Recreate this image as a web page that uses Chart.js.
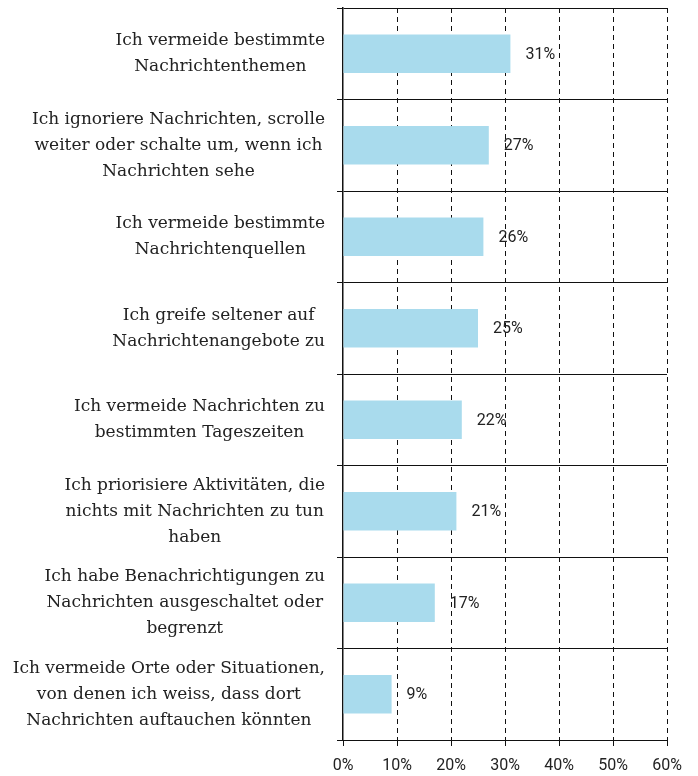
<!DOCTYPE html>
<html>
<head>
<meta charset="utf-8">
<script src="https://cdn.jsdelivr.net/npm/chart.js@4"></script>
<style>
  html, body { margin: 0; padding: 0; background: #fff; }
  #wrap { width: 698px; height: 776px; }
</style>
</head>
<body>
<div id="wrap"><canvas id="chart" width="698" height="776"></canvas></div>
<script>
// data
const categories = [
  ['Ich vermeide bestimmte', 'Nachrichtenthemen'],
  ['Ich ignoriere Nachrichten, scrolle', 'weiter oder schalte um, wenn ich', 'Nachrichten sehe'],
  ['Ich vermeide bestimmte', 'Nachrichtenquellen'],
  ['Ich greife seltener auf', 'Nachrichtenangebote zu'],
  ['Ich vermeide Nachrichten zu', 'bestimmten Tageszeiten'],
  ['Ich priorisiere Aktivitäten, die', 'nichts mit Nachrichten zu tun', 'haben'],
  ['Ich habe Benachrichtigungen zu', 'Nachrichten ausgeschaltet oder', 'begrenzt'],
  ['Ich vermeide Orte oder Situationen,', 'von denen ich weiss, dass dort', 'Nachrichten auftauchen könnten']
]
const values = [31, 27, 26, 25, 22, 21, 17, 9]
const xMax = 60
const xStep = 10

const labelFont = '17px "DejaVu Serif"'
const numFont = '16px Roboto'

// category labels: each block centred on itself, blocks right aligned
const catLabels = {
  id: 'catLabels',
  afterDraw(chart) {
    const ctx = chart.ctx
    const y = chart.scales.y
    ctx.save()
    ctx.font = labelFont
    ctx.fillStyle = '#222'
    ctx.textAlign = 'center'
    ctx.textBaseline = 'middle'
    const right = y.right - 18
    const lh = 26
    categories.forEach((lines, i) => {
      const cy = y.getPixelForValue(i)
      let w = 0
      lines.forEach(l => { w = Math.max(w, ctx.measureText(l).width) })
      const cx = right - w / 2
      lines.forEach((l, k) => {
        ctx.fillText(l, cx, cy + (k - (lines.length - 1) / 2) * lh)
      })
    })
    ctx.restore()
  }
}

// value labels right of the bars
const valueLabels = {
  id: 'valueLabels',
  afterDatasetsDraw(chart) {
    const ctx = chart.ctx
    const meta = chart.getDatasetMeta(0)
    ctx.save()
    ctx.font = numFont
    ctx.fillStyle = '#222'
    ctx.textAlign = 'left'
    ctx.textBaseline = 'middle'
    meta.data.forEach((bar, i) => {
      ctx.fillText(values[i] + '%', bar.x + 15, bar.y + 1)
    })
    ctx.restore()
  }
}

const data = {
  labels: categories,
  datasets: [{
    data: values,
    backgroundColor: '#a9dbed',
    borderWidth: 0,
    barPercentage: 0.42,
    categoryPercentage: 1
  }]
}

const config = {
  type: 'bar',
  data: data,
  options: {
    indexAxis: 'y',
    responsive: false,
    animation: false,
    layout: { padding: { top: 8, right: 31, left: 0, bottom: 0 } },
    plugins: { legend: { display: false }, tooltip: { enabled: false } },
    scales: {
      x: {
        min: 0,
        max: xMax,
        ticks: {
          stepSize: xStep,
          color: '#222',
          font: { family: 'Roboto', size: 16 },
          padding: 10,
          maxRotation: 0,
          callback: v => v + '%'
        },
        grid: {
          color: c => (c.tick && c.tick.value === 0) ? 'rgba(0,0,0,0)' : '#111',
          lineWidth: 1,
          tickLength: 6,
          tickColor: '#111'
        },
        border: { display: true, color: '#111', width: 1, dash: [5, 4] },
        afterFit: s => { s.height = 36 }
      },
      y: {
        ticks: { display: false },
        grid: { color: '#111', lineWidth: 1, tickLength: 6, tickColor: '#111', offset: true },
        border: { display: true, color: '#111', width: 1.5 },
        afterFit: s => { s.width = 343 }
      }
    }
  },
  plugins: [catLabels, valueLabels]
}

let ctx = document.getElementById('chart').getContext('2d')
new Chart(ctx, config)
</script>
</body>
</html>
